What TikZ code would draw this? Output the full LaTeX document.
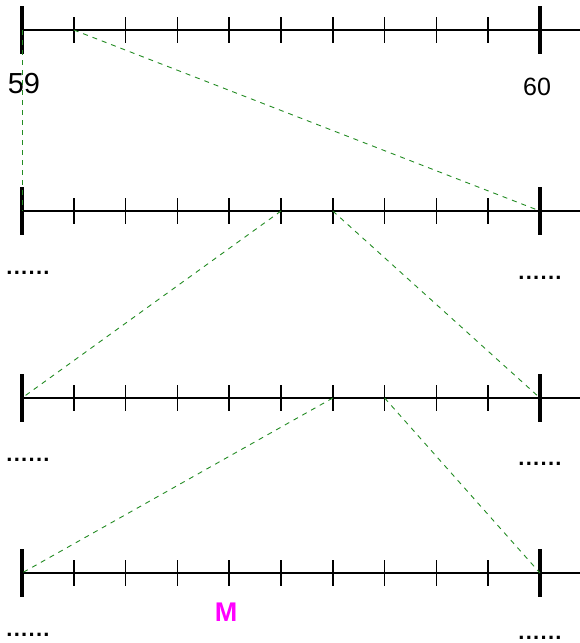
\documentclass[tikz,border=0pt]{standalone}
\usepackage{fontspec}
\setmainfont{Liberation Sans}
\usetikzlibrary{calc}
\definecolor{dashgreen}{RGB}{34,139,34}
\definecolor{mmag}{RGB}{255,0,255}
\newcommand{\sixdots}{.\kern1.3pt.\kern1.3pt.\kern1.3pt.\kern1.3pt.\kern1.3pt.}
\tikzset{
  axisline/.style={line width=1.5pt,black},
  bigtick/.style={line width=4pt,black},
  smalltick/.style={line width=1.5pt,black},
  guide/.style={dashgreen,line width=0.9pt,dash pattern=on 5pt off 5pt},
  dotlabel/.style={font=\fontsize{22}{22}\selectfont\bfseries,inner sep=0pt,anchor=base},
}
\begin{document}
\begin{tikzpicture}[x=1pt,y=-1pt]
\useasboundingbox (0,0) rectangle (580,643);
\foreach \r/\y in {1/30,2/211,3/398,4/573}{
  \foreach \k in {0,...,10}{
    \coordinate (L\r-\k) at ({22+51.8*\k},\y);
  }
  \coordinate (E\r) at (580,\y);
  \draw[axisline] (L\r-0) -- (E\r);
  \foreach \k in {1,...,9}{
    \draw[smalltick] ($(L\r-\k)+(0,-13)$) -- ($(L\r-\k)+(0,13)$);
  }
  \draw[bigtick] ($(L\r-0)+(0,-24)$) -- ($(L\r-0)+(0,24)$);
  \draw[bigtick] ($(L\r-10)+(0,-24)$) -- ($(L\r-10)+(0,24)$);
}
% labels
\node[font=\fontsize{29}{29}\selectfont,inner sep=0pt] (n59) at (24,84) {59};
\node[font=\fontsize{25}{25}\selectfont,inner sep=0pt] (n60) at (537,87) {60};
\node[dotlabel] (d2l) at (28,274) {\sixdots};
\node[dotlabel] (d2r) at (540,279) {\sixdots};
\node[dotlabel] (d3l) at (28,461) {\sixdots};
\node[dotlabel] (d3r) at (540,465) {\sixdots};
\node[dotlabel] (d4l) at (28,636) {\sixdots};
\node[dotlabel] (d4r) at (540,639.5) {\sixdots};
\node[font=\fontsize{27}{27}\selectfont\bfseries,text=mmag,inner sep=0pt] (M) at (226,612) {M};
% guide lines
\draw[guide] (L1-0) -- (L2-0);
\draw[guide] (L1-1) -- (L2-10);
\draw[guide] (L2-5) -- (L3-0);
\draw[guide] (L2-6) -- (L3-10);
\draw[guide] (L3-6) -- (L4-0);
\draw[guide] (L3-7) -- (L4-10);
\end{tikzpicture}
\end{document}
